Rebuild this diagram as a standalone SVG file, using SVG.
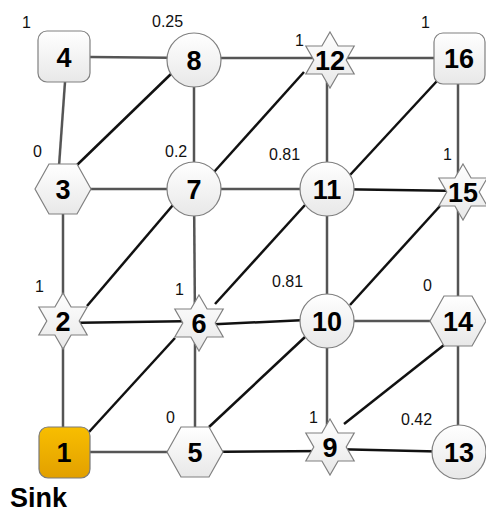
<svg xmlns="http://www.w3.org/2000/svg" width="486" height="512" viewBox="0 0 486 512">
<defs>
<linearGradient id="g" x1="0" y1="0" x2="0" y2="1">
<stop offset="0" stop-color="#ffffff"/>
<stop offset="1" stop-color="#e8e8e8"/>
</linearGradient>
<linearGradient id="gold" x1="0" y1="0" x2="0" y2="1">
<stop offset="0" stop-color="#f8be00"/>
<stop offset="1" stop-color="#e2a000"/>
</linearGradient>
<polygon id="star" points="0,-28 8.1,-14 24.2,-14 16.2,0 24.2,14 8.1,14 0,28 -8.1,14 -24.2,14 -16.2,0 -24.2,-14 -8.1,-14"/>
<polygon id="hex" points="-28,0 -14,-25 14,-25 28,0 14,25 -14,25"/>
</defs>
<style>
.n{fill:url(#g);stroke:#808080;stroke-width:1.2}
.s{fill:url(#gold);stroke:#7a7a7a;stroke-width:1.2}
.t{font-family:"Liberation Sans",Arial,sans-serif;font-weight:bold;font-size:27px;text-anchor:middle;fill:#000}
.l{font-family:"Liberation Sans",Arial,sans-serif;font-size:16px;fill:#111}
.e{stroke:#555;stroke-width:2.5;fill:none}
.d{stroke:#111;stroke-width:2.5;fill:none}
</style>
<g id="edges">
<line class="e" x1="90" y1="57" x2="194" y2="58"/>
<line class="e" x1="194" y1="58" x2="330" y2="58"/>
<line class="e" x1="330" y1="58" x2="459" y2="58"/>
<line class="e" x1="65" y1="82" x2="59" y2="166"/>
<line class="e" x1="194" y1="60" x2="194" y2="189"/>
<line class="e" x1="327" y1="60" x2="327" y2="189"/>
<line class="e" x1="458" y1="58" x2="458" y2="192"/>
<line class="e" x1="63" y1="189" x2="194" y2="189"/>
<line class="e" x1="194" y1="189" x2="327" y2="189"/>
<line class="d" x1="327" y1="189" x2="463" y2="191"/>
<line class="e" x1="63" y1="189" x2="63" y2="321"/>
<line class="e" x1="194" y1="189" x2="195" y2="323"/>
<line class="e" x1="327" y1="189" x2="327" y2="321"/>
<line class="e" x1="458" y1="192" x2="458" y2="321"/>
<line class="d" x1="63" y1="323" x2="199" y2="321"/>
<line class="d" x1="199" y1="325" x2="327" y2="319"/>
<line class="e" x1="327" y1="321" x2="458" y2="321"/>
<line class="e" x1="63" y1="321" x2="63" y2="452"/>
<line class="e" x1="195" y1="323" x2="195" y2="452"/>
<line class="e" x1="327" y1="321" x2="327" y2="447"/>
<line class="e" x1="458" y1="321" x2="458" y2="452"/>
<line class="e" x1="64" y1="452" x2="195" y2="452"/>
<line class="d" x1="195" y1="452" x2="330" y2="451"/>
<line class="d" x1="330" y1="449" x2="459" y2="452"/>
<line class="d" x1="77" y1="165" x2="172" y2="73"/>
<line class="d" x1="87" y1="306" x2="173" y2="205"/>
<line class="d" x1="214" y1="172" x2="304" y2="72"/>
<line class="d" x1="215" y1="304" x2="305" y2="205"/>
<line class="d" x1="350" y1="175" x2="437" y2="81"/>
<line class="d" x1="89" y1="432" x2="175" y2="338"/>
<line class="d" x1="209" y1="427" x2="305" y2="337"/>
<line class="d" x1="350" y1="305" x2="440" y2="206"/>
<line class="d" x1="344" y1="424" x2="444" y2="345"/>
</g>
<g id="n1"><rect class="s" x="39" y="427" width="51" height="51" rx="9"/><text class="t" x="64" y="462">1</text></g>
<g id="n2"><use href="#star" class="n" transform="translate(63,321)"/><text class="t" x="63" y="331">2</text></g>
<g id="n3"><use href="#hex" class="n" transform="translate(63,189)"/><text class="t" x="63" y="199">3</text></g>
<g id="n4"><rect class="n" x="38" y="31" width="52" height="51" rx="9"/><text class="t" x="64" y="67">4</text></g>
<g id="n5"><use href="#hex" class="n" transform="translate(195,452)"/><text class="t" x="195" y="462">5</text></g>
<g id="n6"><use href="#star" class="n" transform="translate(199,323)"/><text class="t" x="199" y="333">6</text></g>
<g id="n7"><circle class="n" cx="194" cy="189" r="27"/><text class="t" x="194" y="199">7</text></g>
<g id="n8"><circle class="n" cx="194" cy="60" r="27"/><text class="t" x="194" y="70">8</text></g>
<g id="n9"><use href="#star" class="n" transform="translate(330,447)"/><text class="t" x="330" y="457">9</text></g>
<g id="n10"><circle class="n" cx="327" cy="321" r="27"/><text class="t" x="327" y="331">10</text></g>
<g id="n11"><circle class="n" cx="327" cy="189" r="27"/><text class="t" x="327" y="199">11</text></g>
<g id="n12"><use href="#star" class="n" transform="translate(330,60)"/><text class="t" x="330" y="70">12</text></g>
<g id="n13"><circle class="n" cx="459" cy="452" r="27"/><text class="t" x="459" y="462">13</text></g>
<g id="n14"><use href="#hex" class="n" transform="translate(458,321)"/><text class="t" x="458" y="331">14</text></g>
<g id="n15"><use href="#star" class="n" transform="translate(463,192)"/><text class="t" x="463" y="202">15</text></g>
<g id="n16"><rect class="n" x="434" y="33" width="51" height="51" rx="9"/><text class="t" x="459" y="68">16</text></g>
<g id="labels">
<text class="l" x="22" y="28">1</text>
<text class="l" x="152" y="27">0.25</text>
<text class="l" x="33" y="157">0</text>
<text class="l" x="165" y="157">0.2</text>
<text class="l" x="295" y="46">1</text>
<text class="l" x="421" y="28">1</text>
<text class="l" x="269" y="160">0.81</text>
<text class="l" x="443" y="160">1</text>
<text class="l" x="35" y="292">1</text>
<text class="l" x="175" y="295">1</text>
<text class="l" x="166" y="423">0</text>
<text class="l" x="272" y="287">0.81</text>
<text class="l" x="423" y="291">0</text>
<text class="l" x="309" y="423">1</text>
<text class="l" x="401" y="425">0.42</text>
<text x="10" y="507" style="font-family:'Liberation Sans',Arial,sans-serif;font-weight:bold;font-size:27px">Sink</text>
</g>
</svg>
